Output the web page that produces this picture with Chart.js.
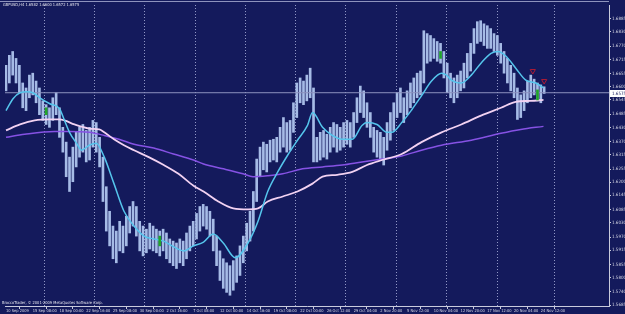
<!DOCTYPE html>
<html>
<head>
<meta charset="utf-8">
<script src="https://cdn.jsdelivr.net/npm/chart.js@4.4.0/dist/chart.umd.min.js"></script>
<style>
  html, body { margin: 0; padding: 0; background: #141a5c; }
  #wrap { position: relative; width: 625px; height: 314px; overflow: hidden; }
  .txt { position: absolute; color: #e4e4ee; font: 4px 'DejaVu Sans Condensed', 'DejaVu Sans', sans-serif; white-space: nowrap; }
  #frame { position: absolute; left: 0; top: 1px; width: 609px; height: 0; border-top: 1px solid #8e93bd; }
</style>
</head>
<body>
<div id="wrap">
  <canvas id="chart" width="625" height="314"></canvas>
  <div id="frame"></div>
  <div class="txt" id="hdr" style="left:3px; top:2px;"></div>
  <div class="txt" style="left:2px; top:300px;">BroccoTrader, © 2001-2009 MetaQuotes Software Corp.</div>
</div>
<script>
// symbol header: open, high, low, close of the last bar
const symbol = 'GBPUSD,H4';
const lastOHLC = [1.6582, 1.6600, 1.6572, 1.6575];
const bidPrice = 1.6575;

// time axis labels (bar index -> label), one label every 8 bars
const labelIdx = [0, 8, 16, 24, 32, 40, 48, 56, 64, 72, 80, 88, 96, 104, 112, 120, 128, 136, 144, 152, 160];
const timeLabels = ['10 Sep 2009', '15 Sep 08:00', '18 Sep 00:00', '22 Sep 16:00', '25 Sep 08:00', '30 Sep 00:00',
  '2 Oct 16:00', '7 Oct 08:00', '12 Oct 00:00', '14 Oct 16:00', '19 Oct 08:00', '22 Oct 00:00', '26 Oct 12:00',
  '29 Oct 04:00', '2 Nov 20:00', '5 Nov 12:00', '10 Nov 04:00', '12 Nov 20:00', '17 Nov 12:00', '20 Nov 04:00', '24 Nov 12:00'];
// week separators (dotted grid)
const gridIdx = [4.1, 19, 34.1, 49, 64.1, 79.2, 94.1, 109.2, 124.3, 139.5, 154.3, 173.6];

// price scale labels
const priceTicks = [1.6885, 1.6830, 1.6770, 1.6715, 1.6655, 1.6600, 1.6545, 1.6485, 1.6430, 1.6370, 1.6315,
  1.6255, 1.6200, 1.6145, 1.6085, 1.6030, 1.5970, 1.5915, 1.5855, 1.5800, 1.5740, 1.5685];

// bar highs / lows
const highs = [
  1.6690, 1.6732, 1.6748, 1.6719, 1.6690, 1.6616, 1.6595, 1.6649, 1.6657, 1.6624,
  1.6595, 1.6541, 1.6525, 1.6512, 1.6554, 1.6575, 1.6512, 1.6430, 1.6368, 1.6305,
  1.6347, 1.6409, 1.6430, 1.6442, 1.6417, 1.6430, 1.6459, 1.6450, 1.6388, 1.6305,
  1.6181, 1.6078, 1.6016, 1.5995, 1.6036, 1.6016, 1.6057, 1.6098, 1.6119, 1.6098,
  1.6036, 1.6016, 1.6003, 1.6028, 1.6016, 1.6003, 1.5995, 1.6003, 1.5987, 1.5962,
  1.5953, 1.5945, 1.5962, 1.5953, 1.5987, 1.6016, 1.6036, 1.6069, 1.6098, 1.6107,
  1.6098, 1.6078, 1.6045, 1.5974, 1.5912, 1.5879, 1.5862, 1.5850, 1.5871, 1.5891,
  1.5933, 1.5974, 1.6028, 1.6078, 1.6161, 1.6297, 1.6347, 1.6368, 1.6359, 1.6376,
  1.6380, 1.6388, 1.6430, 1.6471, 1.6450, 1.6459, 1.6533, 1.6616, 1.6637, 1.6624,
  1.6649, 1.6678, 1.6595, 1.6388, 1.6409, 1.6417, 1.6401, 1.6430, 1.6450, 1.6442,
  1.6430, 1.6450, 1.6459, 1.6450, 1.6492, 1.6554, 1.6603, 1.6583, 1.6533, 1.6492,
  1.6430, 1.6417, 1.6409, 1.6388, 1.6450, 1.6492, 1.6533, 1.6575, 1.6595, 1.6554,
  1.6583, 1.6616, 1.6637, 1.6657, 1.6666, 1.6835, 1.6823, 1.6815, 1.6802, 1.6790,
  1.6782, 1.6748, 1.6699, 1.6657, 1.6637, 1.6649, 1.6666, 1.6699, 1.6740, 1.6782,
  1.6844, 1.6873, 1.6877, 1.6864, 1.6856, 1.6844, 1.6823, 1.6815, 1.6782, 1.6748,
  1.6719, 1.6690, 1.6657, 1.6595, 1.6566, 1.6583, 1.6624, 1.6649, 1.6632, 1.6616,
  1.6608, 1.6600
];
const lows = [
  1.6583, 1.6616, 1.6649, 1.6616, 1.6575, 1.6512, 1.6500, 1.6554, 1.6566, 1.6533,
  1.6483, 1.6459, 1.6442, 1.6430, 1.6459, 1.6483, 1.6388, 1.6326, 1.6223, 1.6161,
  1.6202, 1.6264, 1.6305, 1.6326, 1.6285, 1.6293, 1.6347, 1.6326, 1.6264, 1.6119,
  1.5995, 1.5933, 1.5879, 1.5862, 1.5912, 1.5904, 1.5933, 1.5987, 1.6016, 1.5974,
  1.5912, 1.5891, 1.5904, 1.5920, 1.5912, 1.5904, 1.5891, 1.5912, 1.5879, 1.5862,
  1.5850, 1.5838, 1.5862, 1.5850, 1.5879, 1.5912, 1.5933, 1.5962, 1.5995, 1.6016,
  1.6003, 1.5974, 1.5912, 1.5850, 1.5788, 1.5755, 1.5738, 1.5726, 1.5747, 1.5780,
  1.5809, 1.5862, 1.5912, 1.5953, 1.5995, 1.6119, 1.6223, 1.6252, 1.6243, 1.6285,
  1.6293, 1.6285, 1.6326, 1.6347, 1.6326, 1.6334, 1.6409, 1.6471, 1.6533, 1.6525,
  1.6541, 1.6554, 1.6285, 1.6285, 1.6293, 1.6305, 1.6297, 1.6326, 1.6347, 1.6326,
  1.6334, 1.6347, 1.6359, 1.6347, 1.6388, 1.6450, 1.6492, 1.6471, 1.6430, 1.6388,
  1.6326, 1.6305, 1.6293, 1.6272, 1.6334, 1.6376, 1.6417, 1.6471, 1.6492, 1.6450,
  1.6483, 1.6512, 1.6533, 1.6554, 1.6566, 1.6616, 1.6699, 1.6707, 1.6719, 1.6707,
  1.6699, 1.6637, 1.6575, 1.6554, 1.6533, 1.6554, 1.6583, 1.6595, 1.6637, 1.6666,
  1.6740, 1.6782, 1.6790, 1.6773, 1.6761, 1.6761, 1.6748, 1.6732, 1.6699, 1.6657,
  1.6616, 1.6583, 1.6554, 1.6463, 1.6471, 1.6500, 1.6533, 1.6554, 1.6566, 1.6541,
  1.6533, 1.6572
];

// moving averages as [bar index, price]
const fastMA = [[0, 1.6500], [2.1, 1.6550], [4.2, 1.6575], [6.2, 1.6579], [8, 1.6575], [10.1, 1.6554],
  [13.1, 1.6529], [16, 1.6508], [17.5, 1.6459], [19, 1.6409], [21.1, 1.6363], [22.6, 1.6334], [24.9, 1.6355],
  [27, 1.6363], [29.4, 1.6305], [32.3, 1.6194], [35.3, 1.6078], [38.3, 1.6016], [41.3, 1.5974], [44.2, 1.5962],
  [47.2, 1.5953], [50.2, 1.5929], [53.1, 1.5912], [56.1, 1.5933], [59.1, 1.5949], [62, 1.5983], [65, 1.5945],
  [68.6, 1.5883], [72.4, 1.5945], [75.4, 1.6036], [78.3, 1.6161], [81.3, 1.6243], [84.3, 1.6314], [87.2, 1.6376],
  [90.2, 1.6438], [91.7, 1.6492], [94.7, 1.6430], [97.6, 1.6396], [100.6, 1.6380], [103.6, 1.6380],
  [106.5, 1.6438], [108, 1.6450], [111, 1.6442], [114, 1.6409], [115.4, 1.6409], [118.4, 1.6450],
  [121.4, 1.6504], [124.3, 1.6562], [127.3, 1.6624], [130.3, 1.6657], [131.8, 1.6649], [133.2, 1.6628],
  [136.2, 1.6616], [139.2, 1.6649], [142.1, 1.6699], [145.1, 1.6740], [147.2, 1.6748], [149.6, 1.6728],
  [152.5, 1.6678], [155.5, 1.6628], [158.5, 1.6616], [160.8, 1.6595]];
const slowMA = [[0, 1.6417], [4.2, 1.6442], [8.6, 1.6459], [13.1, 1.6463], [16, 1.6463], [17.5, 1.6459],
  [20.5, 1.6442], [24.9, 1.6425], [27.9, 1.6421], [29.4, 1.6409], [32.3, 1.6380], [35.3, 1.6355], [38.3, 1.6334],
  [42.7, 1.6305], [47.2, 1.6272], [51.6, 1.6235], [56.1, 1.6185], [59.1, 1.6161], [63.5, 1.6119], [68, 1.6090],
  [72.4, 1.6086], [75.4, 1.6090], [78.3, 1.6119], [82.8, 1.6140], [87.2, 1.6161], [91.7, 1.6194], [94.7, 1.6223],
  [99.1, 1.6231], [103.6, 1.6243], [108, 1.6272], [112.5, 1.6293], [118.4, 1.6318], [124.3, 1.6368],
  [130.3, 1.6409], [136.2, 1.6442], [142.1, 1.6479], [148.1, 1.6512], [152.5, 1.6537], [157, 1.6541], [160.8, 1.6545]];
const longMA = [[0, 1.6388], [5.6, 1.6401], [14.5, 1.6413], [19, 1.6413], [24.9, 1.6409], [29.4, 1.6396],
  [33.8, 1.6380], [38.3, 1.6359], [44.2, 1.6343], [50.1, 1.6318], [56.1, 1.6293], [59.1, 1.6276], [65, 1.6256],
  [70.9, 1.6235], [73.9, 1.6223], [78.3, 1.6227], [82.8, 1.6235], [88.7, 1.6256], [94.7, 1.6264], [100.6, 1.6272],
  [106.5, 1.6285], [112.5, 1.6297], [118.4, 1.6310], [124.3, 1.6334], [130.3, 1.6355], [139.2, 1.6376],
  [148.1, 1.6405], [154, 1.6421], [160.8, 1.6434]];

// signal marks
const greenIdx = [12, 46, 130, 159];
const greenHigh = [1.6512, 1.5974, 1.6748, 1.6587];
const greenLow = [1.6483, 1.5933, 1.6719, 1.6545];
const arrowIdx = [157.6, 161];
const arrowPrice = [1.6666, 1.6624];

document.getElementById('hdr').textContent = symbol + ' ' + lastOHLC.map(v => v.toFixed(4)).join(' ');

const axisColor = '#c9cbdc';
const tickFont = { family: "'DejaVu Sans Condensed', 'DejaVu Sans', sans-serif", size: 4 };

const bidBox = {
  id: 'bidBox',
  afterDraw(chart) {
    const ctx = chart.ctx;
    const y = chart.scales.y.getPixelForValue(bidPrice);
    const left = chart.chartArea.right + 1;
    ctx.save();
    ctx.fillStyle = '#ffffff';
    ctx.fillRect(left, Math.round(y) - 3, chart.width - left, 7);
    ctx.fillStyle = '#141a5c';
    ctx.font = "4.5px 'DejaVu Sans Condensed', 'DejaVu Sans', sans-serif";
    ctx.textBaseline = 'middle';
    ctx.fillText(bidPrice.toFixed(4), left + 2, Math.round(y) + 0.5);
    ctx.restore();
  }
};

const lineDs = (data, color, width, order) => ({
  type: 'line',
  data: data.map(p => ({ x: p[0], y: p[1] })),
  borderColor: color,
  borderWidth: width,
  pointRadius: 0,
  cubicInterpolationMode: 'monotone',
  order: order
});

new Chart(document.getElementById('chart'), {
  type: 'bar',
  data: {
    datasets: [
      {
        data: highs.map((h, i) => ({ x: i, y: [lows[i], h] })),
        backgroundColor: '#a6bbe6',
        barThickness: 2,
        grouped: false,
        order: 6
      },
      {
        type: 'line',
        data: [{ x: -0.3, y: bidPrice }, { x: 180.4, y: bidPrice }],
        borderColor: '#8d92bf',
        borderWidth: 1,
        pointRadius: 0,
        order: 5
      },
      lineDs(longMA, '#8652e4', 1.5, 4),
      lineDs(slowMA, '#f2d2f2', 1.8, 3),
      lineDs(fastMA, '#55c5ec', 1.5, 2),
      {
        data: greenIdx.map((v, i) => ({ x: v, y: [greenLow[i], greenHigh[i]] })),
        backgroundColor: '#22a52a',
        barThickness: 2,
        grouped: false,
        order: 1
      },
      {
        type: 'scatter',
        data: arrowIdx.map((v, i) => ({ x: v, y: arrowPrice[i] })),
        pointStyle: 'triangle',
        rotation: 180,
        pointRadius: 3,
        borderColor: '#b01c34',
        borderWidth: 1,
        backgroundColor: 'rgba(0,0,0,0)',
        order: 0
      }
    ]
  },
  options: {
    responsive: false,
    devicePixelRatio: 1,
    animation: false,
    layout: { padding: { top: 1, left: 0, right: 0, bottom: 0 } },
    plugins: { legend: { display: false }, tooltip: { enabled: false } },
    scales: {
      x: {
        type: 'linear',
        position: 'bottom',
        min: -0.3,
        max: 180.4,
        offset: false,
        afterBuildTicks: s => { s.ticks = labelIdx.map(v => ({ value: v })); },
        afterFit: s => { s.height = 8; },
        ticks: {
          autoSkip: false,
          maxRotation: 0,
          align: 'start',
          padding: 0,
          color: '#d6d7e4',
          font: tickFont,
          callback: v => timeLabels[labelIdx.indexOf(v)] || ''
        },
        grid: { drawOnChartArea: false, drawTicks: true, tickLength: 3, color: axisColor },
        border: { display: true, color: axisColor }
      },
      xg: {
        type: 'linear',
        position: 'top',
        min: -0.3,
        max: 180.4,
        offset: false,
        afterBuildTicks: s => { s.ticks = gridIdx.map(v => ({ value: v })); },
        afterFit: s => { s.height = 0; },
        ticks: { display: false },
        grid: { drawTicks: false, color: '#9298c6', lineWidth: 1 },
        border: { display: false, dash: [1, 2] }
      },
      y: {
        type: 'linear',
        position: 'right',
        min: 1.56809,
        max: 1.69429,
        afterBuildTicks: s => { s.ticks = priceTicks.map(v => ({ value: v })); },
        afterFit: s => { s.width = 16; },
        ticks: {
          padding: 1,
          color: '#d6d7e4',
          font: { family: tickFont.family, size: 4.5 },
          callback: v => v.toFixed(4)
        },
        grid: { drawOnChartArea: false, drawTicks: true, tickLength: 2, color: axisColor },
        border: { display: true, color: axisColor }
      }
    }
  },
  plugins: [bidBox]
});
</script>
</body>
</html>
